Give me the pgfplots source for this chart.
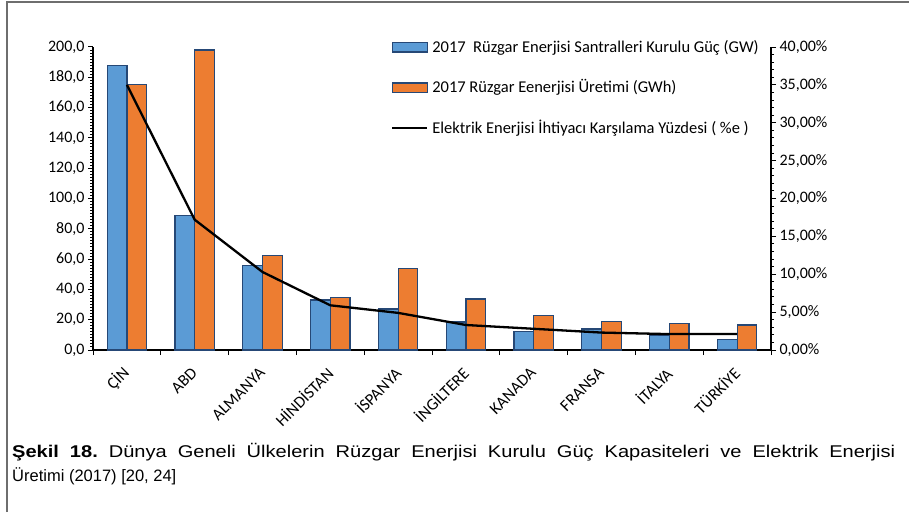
\documentclass[border=0pt]{standalone}
\usepackage{fontspec}
\setmainfont{Carlito}
\newfontfamily\capfont{Liberation Sans}
\newfontfamily\capfontwide[FakeStretch=1.18]{Liberation Sans}
\usepackage{pgfplots}
\pgfplotsset{compat=1.18}
\definecolor{barblue}{RGB}{91,155,213}
\definecolor{barorange}{RGB}{237,125,49}
\definecolor{baredge}{RGB}{38,72,118}
\definecolor{framegray}{RGB}{110,110,110}

\begin{document}
\begin{tikzpicture}
\useasboundingbox (0,0) rectangle (909pt,512pt);
% frame of the figure
\draw[framegray, line width=1.5pt] (7pt,0pt) -- (7pt,510pt) -- (909pt,510pt);
% caption
\node[anchor=base west, inner sep=0pt] at (12pt,54.5pt)
  {\capfontwide\frenchspacing\fontsize{17}{20}\selectfont\makebox[883pt][s]{\textbf{Şekil 18.} Dünya Geneli Ülkelerin Rüzgar Enerjisi Kurulu Güç Kapasiteleri ve Elektrik Enerjisi}};
\node[anchor=base west, inner sep=0pt] at (12pt,31pt)
  {\capfont\fontsize{16.5}{20}\selectfont Üretimi (2017) [20, 24]};

\begin{axis}[
  at={(93pt,162pt)}, anchor=south west,
  scale only axis, width=678pt, height=303pt,
  xmin=-0.5, xmax=9.5, ymin=0, ymax=200,
  axis x line*=bottom, axis y line*=left,
  axis line style={line width=1.2pt, -},
  tick align=outside, major tick length=5pt, minor tick length=3pt,
  tick style={line width=1pt, black},
  ytick={0,20,...,200}, minor y tick num=9,
  /pgf/number format/assume math mode=true,
  yticklabel={\pgfmathprintnumber[fixed,fixed zerofill,precision=1,use comma]{\tick}},
  ticklabel style={font=\fontsize{16}{19}\selectfont},
  xtick={-0.5,0.5,...,9.5}, xticklabels={},
  extra x ticks={0,1,2,3,4,5,6,7,8,9},
  extra x tick labels={ÇİN,ABD,ALMANYA,HİNDİSTAN,İSPANYA,İNGİLTERE,KANADA,FRANSA,İTALYA,TÜRKİYE},
  extra x tick style={tick style={draw=none},
    xticklabel style={yshift=-13pt, xshift=2pt, rotate=45, anchor=east, font=\fontsize{16.5}{19}\selectfont}},
  legend cell align=left,
  legend style={at={(0.4395,1.0208)}, anchor=north west, draw=none, fill=none,
    inner sep=0pt, outer sep=0pt, row sep=24.3pt, column sep=4pt,
    font=\fontsize{16.5}{19}\selectfont,
    nodes={inner sep=0pt, text height=12pt, text depth=4pt}},
]
\addplot[ybar, bar width=0.29, bar shift=-0.145, fill=barblue, draw=baredge, line width=1.2pt,
  legend image code/.code={\draw[fill=barblue, draw=baredge, line width=1.2pt] (0pt,-3.3pt) rectangle (35pt,6pt);}]
  coordinates {(0,188) (1,89) (2,56) (3,33) (4,27) (5,18.5) (6,12.1) (7,13.9) (8,9.5) (9,6.8)};
\addlegendentry{2017\ \ Rüzgar Enerjisi Santralleri Kurulu Güç (GW)}
\addplot[ybar, bar width=0.29, bar shift=0.145, fill=barorange, draw=baredge, line width=1.2pt,
  legend image code/.code={\draw[fill=barorange, draw=baredge, line width=1.2pt] (0pt,-3.3pt) rectangle (35pt,6pt);}]
  coordinates {(0,175.3) (1,198) (2,62.6) (3,34.6) (4,53.6) (5,33.7) (6,22.7) (7,18.7) (8,17.4) (9,16.5)};
\addlegendentry{2017 Rüzgar Eenerjisi Üretimi (GWh)}
\addlegendimage{black, line width=2.3pt,
  legend image code/.code={\draw[black, line width=2.3pt] (0pt,1pt) -- (35pt,1pt);}}
\addlegendentry{Elektrik Enerjisi İhtiyacı Karşılama Yüzdesi ( \%e )}
\end{axis}

\begin{axis}[
  at={(93pt,162pt)}, anchor=south west,
  scale only axis, width=678pt, height=303pt,
  xmin=-0.5, xmax=9.5, ymin=0, ymax=40,
  axis x line=none, axis y line*=right,
  axis line style={line width=1.2pt, -},
  tick align=outside, major tick length=5pt, minor tick length=3pt,
  tick style={line width=1pt, black},
  ytick={0,5,...,40}, minor y tick num=4,
  /pgf/number format/assume math mode=true,
  yticklabel={\pgfmathprintnumber[fixed,fixed zerofill,precision=2,use comma]{\tick}\%},
  ticklabel style={font=\fontsize{16}{19}\selectfont},
]
\addplot[black, line width=2.3pt, mark=none]
  coordinates {(0,35.0) (1,17.2) (2,10.3) (3,5.9) (4,4.9) (5,3.3) (6,2.8) (7,2.3) (8,2.1) (9,2.1)};
\end{axis}
\end{tikzpicture}
\end{document}
